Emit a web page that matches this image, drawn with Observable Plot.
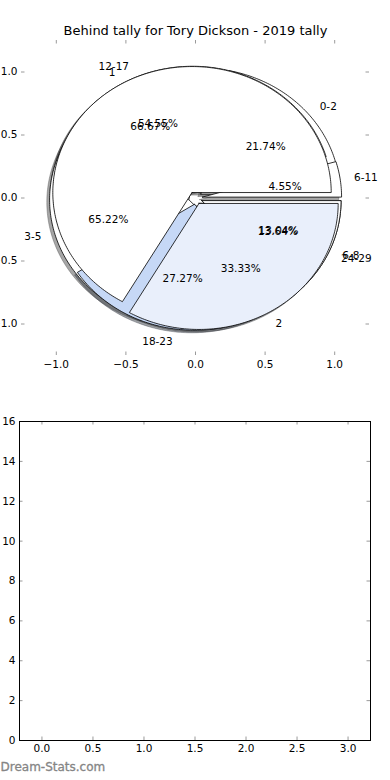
<!DOCTYPE html>
<html><head><meta charset="utf-8">
<script src="https://cdn.jsdelivr.net/npm/d3@7"></script>
<script src="https://cdn.jsdelivr.net/npm/@observablehq/plot@0.6"></script>
<style>
body{margin:0;background:#fff}
#c{width:390px;height:780px;overflow:hidden;position:relative}
#c svg{display:block}
</style>
</head><body><div id="c"></div>
<script>
// ---- data ----
const chartTitle = "Behind tally for Tory Dickson - 2019 tally";
const pieALabels = ["0-2", "3-5", "6-8"];
const pieAValues = [5, 15, 3];
const pieAColors = ["#ffffff", "#ffffff", "#ffffff"];
const pieBLabels = ["6-11", "12-17", "18-23", "24-29"];
const pieBValues = [1, 12, 6, 3];
const pieBColors = ["#ffffff", "#ffffff", "#c6d8f6", "#ffffff"];
const pieCLabels = ["1", "2"];
const pieCValues = [2, 1];
const pieCColors = ["#ffffff", "#e9effb"];
const explodeFrac = 0.05;
const pieTicks = [-1, -0.5, 0, 0.5, 1];
const barXTicks = [0, 0.5, 1, 1.5, 2, 2.5, 3];
const barYTicks = [0, 2, 4, 6, 8, 10, 12, 14, 16];
const watermark = "Dream-Stats.com";

// ---- build wedges the matplotlib way (start 0°, counter-clockwise) ----
function buildPie(labels, values, colors) {
  const total = d3.sum(values);
  let a = 0;
  return values.map((v, i) => {
    const t1 = a, t2 = a + v / total * 360; a = t2;
    const mid = (t1 + t2) / 2 * Math.PI / 180;
    const cx = explodeFrac * Math.cos(mid), cy = explodeFrac * Math.sin(mid);
    const n = Math.max(2, Math.ceil(t2 - t1));
    const pts = [[cx, cy]];
    for (let k = 0; k <= n; k++) {
      const t = (t1 + (t2 - t1) * k / n) * Math.PI / 180;
      pts.push([cx + Math.cos(t), cy + Math.sin(t)]);
    }
    pts.push([cx, cy]);
    return {
      label: labels[i], pct: (v / total * 100).toFixed(2) + "%", color: colors[i], pts,
      lx: cx + 1.1 * Math.cos(mid), ly: cy + 1.1 * Math.sin(mid),
      px: cx + 0.6 * Math.cos(mid), py: cy + 0.6 * Math.sin(mid)
    };
  });
}
const pies = [
  buildPie(pieALabels, pieAValues, pieAColors),
  buildPie(pieBLabels, pieBValues, pieBColors),
  buildPie(pieCLabels, pieCValues, pieCColors)
];
const allWedges = pies.flat();

const shadowMarks = allWedges.map(w => {
  const c = d3.rgb(w.color);
  const sc = d3.rgb(c.r * 0.3, c.g * 0.3, c.b * 0.3).formatRgb();
  return Plot.line(w.pts, {x: d => d[0] - 0.02, y: d => d[1] - 0.02, fill: sc, fillOpacity: 0.5,
    stroke: sc, strokeOpacity: 0.5, strokeWidth: 0.8});
});
const wedgeMarks = allWedges.map(w =>
  Plot.line(w.pts, {x: d => d[0], y: d => d[1], fill: w.color, stroke: "black", strokeWidth: 0.8}));

const textMarks = [];
for (const p of pies) {
  textMarks.push(Plot.text(p.filter(w => w.lx > 0), {x: "lx", y: "ly", text: "label", textAnchor: "start", fill: "black"}));
  textMarks.push(Plot.text(p.filter(w => w.lx <= 0), {x: "lx", y: "ly", text: "label", textAnchor: "end", fill: "black"}));
  textMarks.push(Plot.text(p, {x: "px", y: "py", text: "pct", textAnchor: "middle", fill: "black"}));
}

const topH = 380, topMT = 40, topMB = 25;
const topFrameH = topH - topMT - topMB;
const topW = 390, topML = 21, topMR = 21;
const topFrameW = topW - topML - topMR;
const tickLen = 3.5, tickCol = "#9a9a9a";

const pieChart = Plot.plot({
  width: topW, height: topH,
  marginTop: topMT, marginBottom: topMB, marginLeft: topML, marginRight: topMR,
  style: {fontFamily: "DejaVu Sans", fontSize: "10.5px", background: "white", color: "black"},
  x: {domain: [-1.25, 1.25]},
  y: {domain: [-1.25, 1.25]},
  marks: [
    ...shadowMarks,
    ...wedgeMarks,
    ...textMarks,
    Plot.tickX(pieTicks, {x: d => d, stroke: tickCol, insetBottom: topFrameH - tickLen}),
    Plot.tickX(pieTicks, {x: d => d, stroke: tickCol, insetTop: topFrameH - tickLen}),
    Plot.tickY(pieTicks, {y: d => d, stroke: tickCol, insetRight: topFrameW - tickLen}),
    Plot.tickY(pieTicks, {y: d => d, stroke: tickCol, insetLeft: topFrameW - tickLen}),
    Plot.axisX({ticks: pieTicks, tickFormat: d3.format(".1f"), tickSize: 0, tickPadding: 5, label: null}),
    Plot.axisY({ticks: pieTicks, tickFormat: d3.format(".1f"), tickSize: 0, tickPadding: 4, label: null}),
    Plot.text([chartTitle], {frameAnchor: "top", dy: -10, text: d => d, fontSize: 13, lineAnchor: "middle", fill: "black"})
  ]
});

const botH = 400, botMT = 41, botMB = 40, botML = 19, botMR = 20, botW = 390;
const botFrameH = botH - botMT - botMB, botFrameW = botW - botML - botMR;
const barChart = Plot.plot({
  width: botW, height: botH,
  marginTop: botMT, marginBottom: botMB, marginLeft: botML, marginRight: botMR,
  style: {fontFamily: "DejaVu Sans", fontSize: "10.5px", background: "white", color: "black"},
  x: {domain: [-0.22, 3.22]},
  y: {domain: [0, 16]},
  marks: [
    Plot.tickX(barXTicks, {x: d => d, stroke: tickCol, insetBottom: botFrameH - tickLen}),
    Plot.tickX(barXTicks, {x: d => d, stroke: tickCol, insetTop: botFrameH - tickLen}),
    Plot.tickY(barYTicks, {y: d => d, stroke: tickCol, insetRight: botFrameW - tickLen}),
    Plot.tickY(barYTicks, {y: d => d, stroke: tickCol, insetLeft: botFrameW - tickLen}),
    Plot.frame({stroke: "black", strokeWidth: 1}),
    Plot.axisX({ticks: barXTicks, tickFormat: d3.format(".1f"), tickSize: 0, tickPadding: 4, label: null}),
    Plot.axisY({ticks: barYTicks, tickFormat: d3.format("d"), tickSize: 0, tickPadding: 4, label: null}),
    Plot.text([watermark], {frameAnchor: "bottom-left", dx: -botML, dy: 30, text: d => d, textAnchor: "start",
      fontSize: 12, fill: "#858585", stroke: "#858585", strokeWidth: 0.3})
  ]
});

const c = document.getElementById("c");
c.appendChild(pieChart);
c.appendChild(barChart);
</script>
</body></html>
